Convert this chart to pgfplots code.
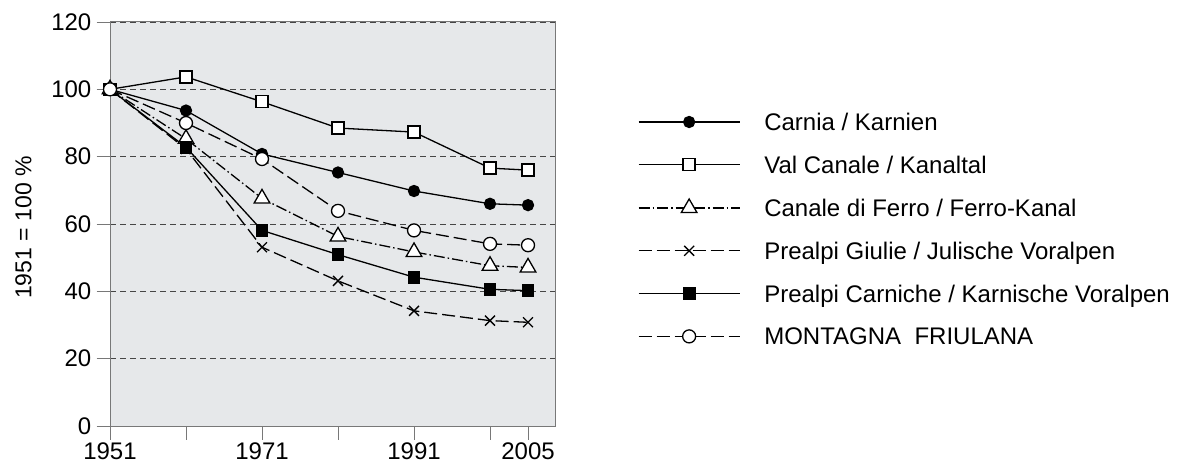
\documentclass[border=0pt]{standalone}
\usepackage{fontspec}
\setmainfont{Liberation Sans}
\usepackage{pgfplots}
\pgfplotsset{compat=1.18}
\definecolor{bgc}{RGB}{230,232,234}
\definecolor{axc}{RGB}{120,120,120}
\definecolor{grc}{RGB}{70,70,70}
\begin{document}
\begin{tikzpicture}
\useasboundingbox (0,0) rectangle (1187bp,465bp);
\begin{axis}[
 at={(110bp,39bp)}, anchor=south west,
 scale only axis, width=445bp, height=404bp,
 xmin=0, xmax=5.855, ymin=0, ymax=120,
 xtick={0,1,2,3,4,5,5.5}, xticklabels={1951,,1971,,1991,,2005},
 ytick={0,20,...,120},
 tick pos=left, tick align=outside, major tick length=13.5bp,
 tick style={axc, line width=0.9bp},
 axis line style={axc, line width=1bp},
 axis background/.style={fill=bgc},
 ymajorgrids, major grid style={grc, line width=0.7bp, dash pattern=on 6bp off 4bp},
 /pgf/number format/assume math mode=true,
 ticklabel style={font=\fontsize{24bp}{28bp}\selectfont},
 yticklabel style={inner sep=5bp},
 xticklabel style={inner sep=3bp},
 ylabel={1951 = 100 \%},
 ylabel style={at={(axis description cs:-0.1944,0.4913)}, anchor=center, font=\fontsize{23bp}{27bp}\selectfont},
 legend style={at={(1.1865,0.7738)}, anchor=north west, draw=none, fill=none, inner sep=0pt, outer sep=0pt,
   /tikz/row sep=25.6bp, /tikz/column sep=24bp,
   font=\fontsize{24bp}{28bp}\selectfont,
   nodes={inner sep=0pt, text height=17.2bp, text depth=0pt}},
 legend cell align=left,
 legend image code/.code={\draw[mark repeat=2,mark phase=2,#1] plot coordinates {(0bp,0bp) (50.5bp,0bp) (101bp,0bp)};},
 every axis plot/.append style={black, line width=1.3bp},
]
\addplot[mark=*, mark size=5.5bp, mark options={solid}] coordinates {
 (0,100) (1,93.7) (2,80.8) (3,75.3) (4,69.8) (5,66.0) (5.5,65.6)};
\addlegendentry{Carnia / Karnien}
\addplot[mark=square*, mark size=6bp, mark options={solid, fill=white}] coordinates {
 (0,100) (1,103.7) (2,96.3) (3,88.5) (4,87.3) (5,76.6) (5.5,76.0)};
\addlegendentry{Val Canale / Kanaltal}
\addplot[dash pattern=on 11bp off 3bp on 1.5bp off 3bp, mark=triangle*, mark size=9bp, mark options={solid, fill=white}] coordinates {
 (0,100) (1,85.3) (2,67.6) (3,56.3) (4,51.7) (5,47.6) (5.5,47.1)};
\addlegendentry{Canale di Ferro / Ferro-Kanal}
\addplot[dash pattern=on 13bp off 5bp, mark=x, mark size=7bp, mark options={solid}] coordinates {
 (0,100) (1,82.3) (2,53.1) (3,43.1) (4,34.2) (5,31.3) (5.5,30.8)};
\addlegendentry{Prealpi Giulie / Julische Voralpen}
\addplot[mark=square*, mark size=5.8bp, mark options={solid}] coordinates {
 (0,100) (1,82.8) (2,58.1) (3,50.9) (4,44.2) (5,40.6) (5.5,40.2)};
\addlegendentry{Prealpi Carniche / Karnische Voralpen}
\addplot[dash pattern=on 13bp off 5bp, mark=*, mark size=6.5bp, mark options={solid, fill=white}] coordinates {
 (0,100) (1,90.0) (2,79.3) (3,63.9) (4,58.1) (5,54.1) (5.5,53.7)};
\addlegendentry{MONTAGNA~ FRIULANA}
\end{axis}
\end{tikzpicture}
\end{document}
